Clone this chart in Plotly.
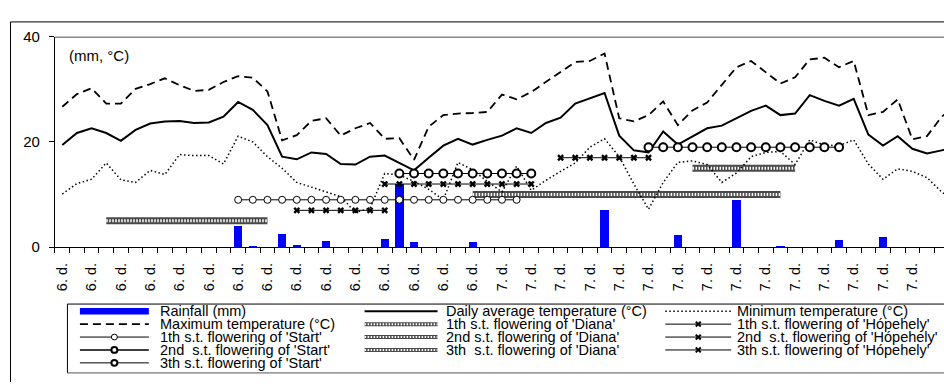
import plotly.graph_objects as go

# ---------------------------------------------------------------- data
# one entry per day: June 1-30, then July 1-32 (index 0 = June 1)
month = [6] * 30 + [7] * 32
day_index = list(range(len(month)))

# daily rainfall (mm); None = no rain
rainfall = [None, None, None, None, None, None, None, None, None, None,
            None, None, 4.1, 0.3, None, 2.5, 0.55, None, 1.3, None,
            None, None, 1.6, 12.0, 1.0, None, None, None, 1.0, None,
            None, None, None, None, None, None, None, 7.2, None, None,
            None, None, 2.4, None, None, None, 9.0, None, None, 0.2,
            None, None, None, 1.5, None, None, 2.0, None, None, None,
            None, None]

avg_temp = [19.4, 21.7, 22.6, 21.7, 20.2, 22.3, 23.5, 23.9, 24.0, 23.6,
            23.7, 24.8, 27.6, 26.1, 23.2, 17.2, 16.7, 18.0, 17.7, 15.8,
            15.7, 17.2, 17.4, 16.0, 14.6, 17.0, 19.3, 20.6, 19.5, 20.4,
            21.2, 22.6, 21.7, 23.6, 24.6, 27.3, 28.3, 29.3, 21.2, 18.4,
            18.0, 22.0, 19.5, 21.1, 22.6, 23.1, 24.5, 25.9, 26.9, 25.1,
            25.4, 28.9, 27.8, 26.9, 28.2, 21.4, 19.3, 21.1, 18.7, 17.8,
            18.4, 19.0]

max_temp = [26.7, 29.1, 30.2, 27.3, 27.3, 30.1, 31.0, 32.1, 30.8, 29.7,
            29.9, 31.4, 32.5, 32.2, 29.6, 20.3, 21.3, 24.0, 24.5, 21.2,
            22.6, 23.6, 20.6, 20.7, 16.6, 22.9, 25.1, 25.4, 25.5, 25.7,
            29.0, 28.1, 29.5, 31.4, 33.3, 35.2, 35.4, 36.8, 24.5, 23.9,
            25.1, 27.7, 23.2, 26.0, 27.5, 30.8, 34.2, 35.4, 33.3, 31.1,
            32.3, 35.7, 36.0, 34.2, 35.4, 25.1, 25.7, 28.1, 20.5, 21.1,
            24.8, 27.0]

min_temp = [10.1, 12.1, 12.9, 16.0, 12.8, 12.3, 14.6, 13.8, 17.6, 17.4,
            17.4, 15.8, 21.1, 20.0, 17.2, 15.0, 12.3, 11.4, 10.6, 9.6,
            6.6, 7.4, 14.0, 13.7, 12.5, 11.0, 9.0, 16.1, 14.7, 12.5,
            10.5, 15.4, 10.8, 12.7, 14.4, 16.0, 19.0, 20.6, 17.2, 12.0,
            7.2, 12.3, 16.1, 16.4, 15.7, 12.3, 14.1, 17.2, 18.0, 18.2,
            15.7, 20.4, 19.4, 19.3, 20.4, 15.8, 12.9, 14.9, 14.4, 13.2,
            10.5, 8.5]

# flowering stages: (first day index, last day index, plotted level)
start_1 = (12, 31, 9)
start_2 = (23, 32, 14)
start_3 = (40, 53, 19)
diana_1 = (3, 14, 5)
diana_2 = (28, 49, 10)
diana_3 = (43, 50, 15)
hopehely_1 = (16, 22, 7)
hopehely_2 = (22, 32, 12)
hopehely_3 = (34, 40, 17)

tick_idx = day_index[::2]
tick_text = [f"{month[i]}. d." for i in tick_idx]

# ---------------------------------------------------------------- geometry
W, H = 944, 390
FONT = "Liberation Sans, Arial, sans-serif"
KEY_FONT = 14.5


def fx(x):
    return x / W


def fy(y):
    return 1 - y / H


def stage(period):
    a, b, level = period
    xs = list(range(a, b + 1))
    return xs, [level] * len(xs)


fig = go.Figure()

fig.add_trace(go.Bar(x=day_index, y=rainfall, width=0.57,
                     marker=dict(color="#0000ff", line=dict(width=0)),
                     name="Rainfall (mm)"))

# Diana stages: chain-patterned bands
for period in (diana_1, diana_2, diana_3):
    xs, ys = stage(period)
    fig.add_trace(go.Scatter(x=xs, y=ys, mode="lines",
                             line=dict(color="#4a4a4a", width=7)))
    fig.add_trace(go.Scatter(x=xs, y=ys, mode="lines",
                             line=dict(color="#ffffff", width=3, dash="1.5px,1.5px")))

fig.add_trace(go.Scatter(x=day_index, y=avg_temp, mode="lines",
                         line=dict(color="#000000", width=2)))
fig.add_trace(go.Scatter(x=day_index, y=max_temp, mode="lines",
                         line=dict(color="#000000", width=1.8, dash="8px,5px")))
fig.add_trace(go.Scatter(x=day_index, y=min_temp, mode="lines",
                         line=dict(color="#000000", width=1.5, dash="1.5px,2.5px")))

# Hópehely stages
for period in (hopehely_1, hopehely_2, hopehely_3):
    xs, ys = stage(period)
    fig.add_trace(go.Scatter(x=xs, y=ys, mode="lines+markers",
                             line=dict(color="#000000", width=1),
                             marker=dict(symbol="x", size=6, color="#000000",
                                         line=dict(width=0))))

# Start stages
for period, mw, msize in ((start_1, 1, 7), (start_2, 2, 8), (start_3, 2, 8)):
    xs, ys = stage(period)
    fig.add_trace(go.Scatter(x=xs, y=ys, mode="lines+markers",
                             line=dict(color="#000000", width=1),
                             marker=dict(symbol="circle", size=msize, color="#ffffff",
                                         line=dict(color="#000000", width=mw))))

# ---------------------------------------------------------------- frame & legend
shapes = []


def frame_line(x0, y0, x1, y1, color="#000000", width=1):
    shapes.append(dict(type="line", xref="paper", yref="paper",
                       x0=fx(x0), y0=fy(y0), x1=fx(x1), y1=fy(y1),
                       line=dict(color=color, width=width)))


# outer chart border (its right and bottom edges lie past the page edge)
frame_line(9.5, 13.5, W, 13.5)
frame_line(9.5, 13.5, 9.5, H)
# plot area top edge
frame_line(54, 29.5, W, 29.5, color="#8a8a8a", width=1.5)
# legend box
frame_line(66.5, 308.5, W, 308.5)
frame_line(66.5, 308.5, 66.5, 380.5)
frame_line(66.5, 380.5, W, 380.5, color="#555555")

annotations = [
    dict(text="(mm, °C)", xref="paper", yref="paper", x=fx(66), y=fy(49),
         xanchor="left", yanchor="middle", showarrow=False,
         font=dict(family=FONT, size=15, color="#000000")),
]

rows = [316, 329.5, 343, 356.5, 370]
cols = [(79, 148, 157), (364, 437, 443), (665, 731, 735)]


def key_line(c, r, width=1, dash="solid", color="#000000"):
    x0, x1, _ = cols[c]
    shapes.append(dict(type="line", xref="paper", yref="paper",
                       x0=fx(x0), x1=fx(x1), y0=fy(rows[r]), y1=fy(rows[r]),
                       line=dict(color=color, width=width, dash=dash)))


def key_circle(c, r, lw, rad):
    x0, x1, _ = cols[c]
    xc = (x0 + x1) / 2
    shapes.append(dict(type="circle", xref="paper", yref="paper",
                       x0=fx(xc - rad), x1=fx(xc + rad),
                       y0=fy(rows[r] + rad), y1=fy(rows[r] - rad),
                       fillcolor="#ffffff", line=dict(color="#000000", width=lw)))


def key_cross(c, r, s=2.5):
    x0, x1, _ = cols[c]
    xc, yc = (x0 + x1) / 2, rows[r]
    for d in (1, -1):
        shapes.append(dict(type="line", xref="paper", yref="paper",
                           x0=fx(xc - s), x1=fx(xc + s),
                           y0=fy(yc - d * s), y1=fy(yc + d * s),
                           line=dict(color="#000000", width=2)))


def key_text(c, r, text):
    annotations.append(dict(text=text, xref="paper", yref="paper",
                            x=fx(cols[c][2]), y=fy(rows[r]), xanchor="left",
                            yanchor="middle", showarrow=False,
                            font=dict(family=FONT, size=KEY_FONT, color="#000000")))


# column 1
shapes.append(dict(type="rect", xref="paper", yref="paper", x0=fx(79), x1=fx(148),
                   y0=fy(319.5), y1=fy(312.5), fillcolor="#0000ff",
                   line=dict(width=0)))
key_text(0, 0, "Rainfall (mm)")
key_line(0, 1, width=1.8, dash="8px,5px")
key_text(0, 1, "Maximum temperature (°C)")
key_line(0, 2, width=1)
key_circle(0, 2, 1, 3)
key_text(0, 2, "1th s.t. flowering of 'Start'")
key_line(0, 3, width=1.6)
key_circle(0, 3, 2, 3)
key_text(0, 3, "2nd\u00a0 s.t. flowering of 'Start'")
key_line(0, 4, width=1)
key_circle(0, 4, 2, 3)
key_text(0, 4, "3th s.t. flowering of 'Start'")

# column 2
key_line(1, 0, width=2)
key_text(1, 0, "Daily average temperature (°C)")
for r, txt in ((1, "1th s.t. flowering of 'Diana'"),
               (2, "2nd s.t. flowering of 'Diana'"),
               (3, "3th\u00a0 s.t. flowering of 'Diana'")):
    key_line(1, r, width=4, color="#4a4a4a")
    key_line(1, r, width=2, color="#ffffff", dash="1.5px,1.5px")
    key_text(1, r, txt)

# column 3
key_line(2, 0, width=1.5, dash="1.5px,2.5px")
key_text(2, 0, "Minimum temperature (°C)")
for r, txt in ((1, "1th s.t. flowering of 'Hópehely'"),
               (2, "2nd\u00a0 s.t. flowering of 'Hópehely'"),
               (3, "3th s.t. flowering of 'Hópehely'")):
    key_line(2, r, width=1)
    key_cross(2, r)
    key_text(2, r, txt)

fig.update_layout(
    width=W, height=H,
    margin=dict(l=0, r=0, t=0, b=0),
    paper_bgcolor="#ffffff", plot_bgcolor="#ffffff",
    showlegend=False,
    bargap=0,
    shapes=shapes,
    annotations=annotations,
    font=dict(family=FONT, color="#000000"),
    xaxis=dict(domain=[54 / W, 1], range=[-0.5, 60.16],
               tickmode="array", tickvals=tick_idx, ticktext=tick_text,
               tickangle=-90, ticks="outside", ticklen=9,
               tickcolor="rgba(0,0,0,0)",
               tickfont=dict(family=FONT, size=14.5, color="#000000"),
               minor=dict(tickmode="array",
                          tickvals=[i - 0.5 for i in day_index],
                          ticks="outside", ticklen=5, tickcolor="#000000",
                          tickwidth=1, showgrid=False),
               showline=True, linecolor="#000000", linewidth=1,
               showgrid=False, zeroline=False, fixedrange=True),
    yaxis=dict(domain=[(H - 249) / H, (H - 29) / H], range=[0, 40],
               tickmode="array", tickvals=[0, 20, 40],
               ticks="outside", ticklen=5, tickcolor="#000000",
               ticklabelstandoff=6,
               tickfont=dict(family=FONT, size=15, color="#000000"),
               showline=True, linecolor="#000000", linewidth=1,
               showgrid=False, zeroline=False, fixedrange=True),
)

# the page body keeps its default 8px margin unless it is cleared
fig.write_html("out.html",
               post_script="document.body.style.margin='0';"
                           "document.body.style.overflow='hidden';")
